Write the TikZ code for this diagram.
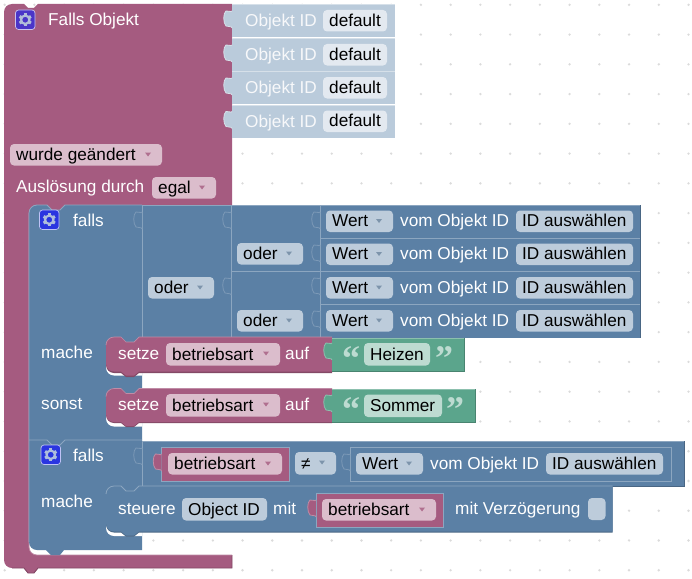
\documentclass[tikz,border=0pt]{standalone}
\usepackage{fontspec}
\setmainfont{Liberation Sans}
\newfontfamily\quotefont{Liberation Serif}
\definecolor{pur}{HTML}{A55B80}
\definecolor{purL}{HTML}{C08CA6}
\definecolor{purD}{HTML}{844966}
\definecolor{purF}{HTML}{DBBDCC}
\definecolor{blu}{HTML}{5B80A5}
\definecolor{bluL}{HTML}{8CA6C0}
\definecolor{bluT}{HTML}{7C99B7}
\definecolor{bluD}{HTML}{496684}
\definecolor{bluF}{HTML}{BDCCDB}
\definecolor{lbl}{HTML}{BACBDB}
\definecolor{lblL}{HTML}{D6E0E9}
\definecolor{lblF}{HTML}{E3E9F0}
\definecolor{grn}{HTML}{5BA58C}
\definecolor{grnL}{HTML}{8CC0AE}
\definecolor{grnD}{HTML}{498470}
\definecolor{grnF}{HTML}{BDDBD1}
\definecolor{gearA}{HTML}{4A35C8}
\definecolor{gearB}{HTML}{2A35E0}
\tikzset{
  lab/.style={anchor=base west,inner sep=0pt,font=\fontsize{17.2}{20}\selectfont},
  whitelab/.style={lab,text=white},
  darklab/.style={lab,text=black},
  quotemark/.style={anchor=base,inner sep=0pt,text=grnF,font=\quotefont\bfseries\fontsize{36}{36}\selectfont},
}
\newcommand{\fieldbox}[6]{%
  \fill[#5,rounded corners=4] (#1,#2) rectangle (#3,#4+.5);
  \node[darklab] at (#1+6,#4-4.8) {#6};}
\newcommand{\ddfield}[7]{%
  \fieldbox{#1}{#2}{#3}{#4}{#5}{#7}
  \fill[#6] (#3-17,#2+8.5) -- (#3-11,#2+8.5) -- (#3-14,#2+12.5) -- cycle;}
\newcommand{\tabshape}[2]{(#1,#2+7) .. controls (#1-1,#2+9) and (#1-3,#2+6) .. (#1-6,#2+7) .. controls (#1-9,#2+9) and (#1-9,#2+19) .. (#1-6,#2+22) .. controls (#1-3,#2+24) and (#1-1,#2+21) .. (#1,#2+24)}
\newcommand{\ptab}[4]{\fill[#3] \tabshape{#1}{#2} -- cycle; \draw[#4,line width=.8] \tabshape{#1}{#2};}
\newcommand{\stmtpath}[4]{(#1,#2+8) .. controls (#1,#2+3.6) and (#1+3.6,#2) .. (#1+8,#2) -- (#1+15,#2) -- (#1+20,#2+5) -- (#1+28,#2+5) -- (#1+33,#2) -- (#3,#2) -- (#3,#4) -- (#1+33,#4) -- (#1+28,#4+4) -- (#1+20,#4+4) -- (#1+15,#4) -- (#1+8,#4) .. controls (#1+3.6,#4) and (#1,#4-3.6) .. (#1,#4-8) -- cycle}
\newcommand{\stmttop}[3]{(#1,#2+8) .. controls (#1,#2+3.6) and (#1+3.6,#2) .. (#1+8,#2) -- (#1+15,#2) -- (#1+20,#2+5) -- (#1+28,#2+5) -- (#1+33,#2) -- (#3,#2)}
\newcommand{\gear}[3]{%
  \fill[#3,rounded corners=3,draw=white!70!#3,line width=.7] (#1,#2) rectangle (#1+19.5,#2+19.5);
  \foreach \a in {0,60,...,300}{\fill[bluF!90!#3,rotate around={\a:(#1+9.75,#2+9.75)}] (#1+8.2,#2+3.2) rectangle (#1+11.3,#2+6);}
  \draw[bluF!90!#3,line width=2.2] (#1+9.75,#2+9.75) circle[radius=4.2];}
\newcommand{\wertrow}[2]{%
  \ddfield{#1+6}{#2+5.5}{#1+73}{#2+26.5}{bluF}{bluD!55!bluF}{Wert}
  \node[whitelab] at (#1+80,#2+21.5) {vom Objekt ID};
  \fieldbox{#1+196}{#2+5.5}{#1+313}{#2+26.5}{bluF}{ID auswählen}}
\newcommand{\idrow}[1]{%
  \fill[lbl] (232,#1) rectangle (394.5,#1+33);
  \draw[lblL,line width=.8] (232,#1+.4) -- (394.5,#1+.4);
  \ptab{232}{#1}{lbl}{lblL}
  \node[whitelab,text=white!70!lblF] at (245,#1+22.5) {Objekt ID};
  \fieldbox{323}{#1+6}{387}{#1+27}{lblF}{default}}
\begin{document}
\begin{tikzpicture}[x=1pt,y=-1pt]
\useasboundingbox (0,0) rectangle (692,578);
\fill[white] (0,0) rectangle (692,578);
% grid dots
\foreach \i in {0,...,23}\foreach \j in {0,...,19}{\fill[black!14] (4.7+29.73*\i,4.8+29.76*\j) circle[radius=1.3];}
% hat block
\fill[pur] (4,12) .. controls (4,7.6) and (7.6,4) .. (12,4) -- (24,4) -- (28,8) -- (34,8) -- (38,4) -- (232,4) -- (232,205)
  -- (65,205) -- (60,210) -- (52,210) -- (47,205) -- (37,205) .. controls (32.6,205) and (29,208.6) .. (29,213)
  -- (29,547) .. controls (29,551.4) and (32.6,555) .. (37,555) -- (232,555) -- (232,568) -- (38,568) -- (34,573) -- (28,573) -- (24,568)
  -- (12,568) .. controls (7.6,568) and (4,564.4) .. (4,560) -- cycle;
\draw[purD,line width=.9] (232,555) -- (232,568) -- (38,568) -- (34,573) -- (28,573) -- (24,568) -- (12,568);
\draw[purL,line width=.7] (29,213) -- (29,547) .. controls (29,551.4) and (32.6,555) .. (37,555) -- (232,555);
\gear{15.5}{10}{gearA}
\node[whitelab] at (48,26) {Falls Objekt};
\ddfield{10}{144}{162}{165}{purF}{pur!80!purF}{wurde geändert}
\node[whitelab] at (16,192.5) {Auslösung durch};
\ddfield{152}{177}{216}{198}{purF}{pur!80!purF}{egal}
% id rows
\idrow{4}\idrow{38}\idrow{71}\idrow{104.5}
% first falls, second falls body
\fill[blu] (29,213) .. controls (29,208.6) and (32.6,205) .. (37,205) -- (47,205) -- (52,210) -- (60,210) -- (65,205) -- (142,205) -- (142,550)
  -- (64,550) -- (60,555) -- (51,555) -- (46,550) -- (37,550) .. controls (32.6,550) and (29,546.4) .. (29,542) -- cycle;
\draw[bluL,line width=.8] (29,542) -- (29,213) .. controls (29,208.6) and (32.6,205) .. (37,205) -- (47,205) -- (52,210) -- (60,210) -- (65,205) -- (142,205);
% white strips below inner blocks
\fill[white] (106,362) -- (142,362) -- (142,375.5) -- (114,375.5) .. controls (109.6,375.5) and (106,371.9) .. (106,367.5) -- cycle;
\fill[white] (106,412) -- (142,412) -- (142,426.5) -- (114,426.5) .. controls (109.6,426.5) and (106,422.9) .. (106,418.5) -- cycle;
\fill[white] (106,522) -- (142,522) -- (142,536) -- (114,536) .. controls (109.6,536) and (106,532.4) .. (106,528) -- cycle;
% value blocks, oder
\fill[blu] (142,205) rectangle (320,337);
\fill[blu] (320,205) rectangle (640,337.5);
\draw[bluL,line width=.8] (142,205.4) -- (640,205.4);
\draw[bluL,line width=.8] (142,205) -- (142,337) (231,205) -- (231,337) (320,205) -- (320,337);
\draw[bluL,line width=.9] (231,271) -- (640,271);
\draw[bluL,line width=.9] (320,238) -- (640,238) (320,304) -- (640,304);
\draw[bluD,line width=.8] (640,205) -- (640,337.5);
\ptab{142}{205}{blu}{bluT}
\ptab{231}{205}{blu}{bluT}
\ptab{231}{271}{blu}{bluT}
\foreach \y in {205,238,271,304}{\ptab{320}{\y}{blu}{bluT}}
\gear{39.5}{210}{gearB}
\node[whitelab] at (73,226) {falls};
\ddfield{148}{277}{214}{298}{bluF}{bluD!55!bluF}{oder}
\ddfield{237}{243}{303}{264}{bluF}{bluD!55!bluF}{oder}
\ddfield{237}{310}{303}{331}{bluF}{bluD!55!bluF}{oder}
\wertrow{320}{205}\wertrow{320}{238}\wertrow{320}{271.5}\wertrow{320}{304.5}
% setze blocks
\node[whitelab] at (41,358) {mache};
\node[whitelab] at (41,409) {sonst};
\fill[purD] [yshift=-1pt] \stmtpath{106}{337}{332}{372};
\fill[pur] \stmtpath{106}{337}{332}{371.5};
\draw[purL,line width=.7] \stmttop{106}{337}{332};
\node[whitelab] at (118,359) {setze};
\ddfield{166}{343}{280}{365}{purF}{pur!80!purF}{betriebsart}
\node[whitelab] at (285,359) {auf};
\fill[purD] [yshift=-1pt] \stmtpath{106}{388.5}{332}{422};
\fill[pur] \stmtpath{106}{388.5}{332}{422};
\draw[purL,line width=.7] \stmttop{106}{388.5}{332};
\node[whitelab] at (118,410) {setze};
\ddfield{166}{394}{280}{416}{purF}{pur!80!purF}{betriebsart}
\node[whitelab] at (285,410) {auf};
% text blocks
\fill[grn] (332,337.5) rectangle (464,371);
\draw[grnD,line width=.9] (332,371) -- (464,371) -- (464,338);
\draw[grnL,line width=.7] (332,337.9) -- (464,337.9);
\ptab{332}{336}{grn}{grnL}
\node[quotemark] at (351,370) {“};
\fieldbox{364}{343}{430}{365}{grnF}{Heizen}
\node[quotemark] at (444,370) {”};
\fill[grn] (332,388.5) rectangle (475,422);
\draw[grnD,line width=.9] (332,422) -- (475,422) -- (475,389);
\draw[grnL,line width=.7] (332,388.9) -- (475,388.9);
\ptab{332}{388}{grn}{grnL}
\node[quotemark] at (351,421) {“};
\fieldbox{364}{394.5}{442}{416.5}{grnF}{Sommer}
\node[quotemark] at (455,421) {”};
% second falls
\draw[bluL,line width=.8] (29,440) -- (47,440) -- (52,445) -- (60,445) -- (65,440) -- (142,440);
\gear{41}{445}{gearB}
\node[whitelab] at (73,461) {falls};
\node[whitelab] at (41,507) {mache};
% compare block
\fill[blu] (142,441) rectangle (684,486);
\draw[bluL,line width=.8] (142,441.4) -- (684,441.4);
\draw[bluL,line width=.8] (142,441) -- (142,486);
\draw[bluD,line width=.9] (684,441) -- (684,486) -- (612,486);
\ptab{142}{441}{blu}{bluT}
\fill[pur,draw=bluL,line width=.8] (161.5,447) rectangle (289.5,481);
\ptab{161.5}{447}{pur}{purL}
\ddfield{168}{453}{282}{474}{purF}{pur!80!purF}{betriebsart}
\ddfield{295}{452}{336}{474}{bluF}{bluD!55!bluF}{≠}
\draw[bluL,line width=.8] (350,447) rectangle (671,481);
\ptab{350}{447}{blu}{bluT}
\wertrow{350}{447.5}
% steuere
\fill[bluD] [yshift=-1pt] \stmtpath{106}{486}{612.5}{531.5};
\fill[blu] \stmtpath{106}{486}{612.5}{531.5};
\draw[bluL,line width=.8] \stmttop{106}{486}{612.5};
\node[whitelab] at (118,514) {steuere};
\fieldbox{182}{498}{267}{520}{bluF}{Object ID}
\node[whitelab] at (273,514) {mit};
\fill[pur,draw=bluL,line width=.8] (316,493) rectangle (443,527);
\ptab{316}{493}{pur}{purL}
\ddfield{322}{499}{436}{520}{purF}{pur!80!purF}{betriebsart}
\node[whitelab] at (455,514) {mit Verzögerung};
\fill[bluF,rounded corners=4] (588,498) rectangle (605.5,520);
\end{tikzpicture}
\end{document}
